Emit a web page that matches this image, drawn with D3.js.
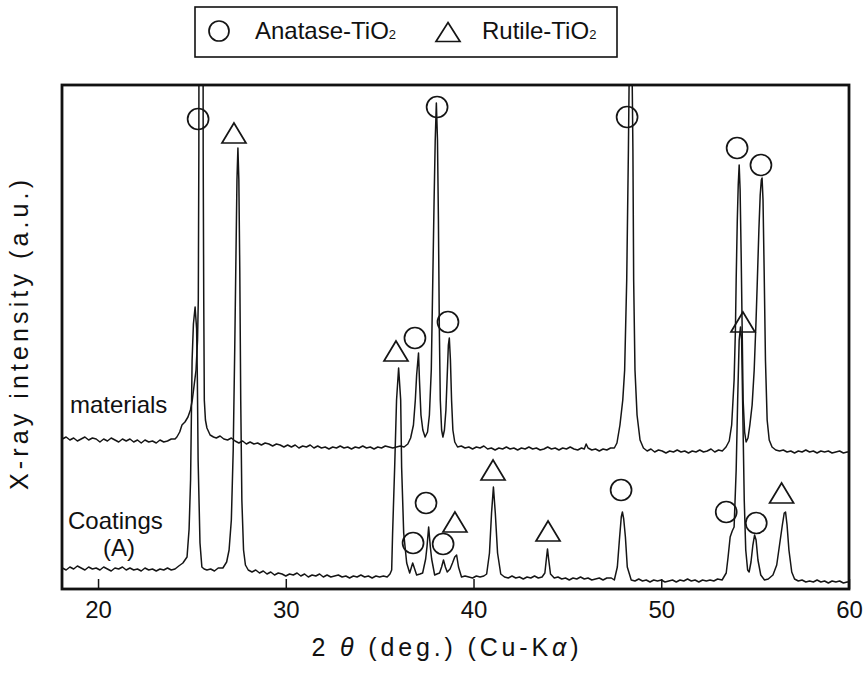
<!DOCTYPE html>
<html>
<head>
<meta charset="utf-8">
<script src="https://cdn.jsdelivr.net/npm/d3@7"></script>
<style>
  body { margin: 0; background: #fff; }
  svg text { font-family: "Liberation Sans", Arial, Helvetica, sans-serif; fill: #111; }
</style>
</head>
<body>
<svg id="chart" width="863" height="675"></svg>
<script>
// XRD patterns: [2θ (deg), intensity (a.u.)]; the materials pattern carries its own vertical offset
const materials = [
  [18.10,1500],[18.30,1520],[18.50,1490],[18.70,1510],[18.90,1480],[19.10,1500],[19.30,1520],[19.50,1490],
  [19.70,1510],[19.90,1500],[20.10,1470],[20.30,1500],[20.50,1480],[20.70,1510],[20.90,1490],[21.10,1470],
  [21.30,1500],[21.50,1480],[21.70,1500],[21.90,1470],[22.10,1490],[22.30,1460],[22.50,1490],[22.70,1470],
  [22.90,1480],[23.10,1460],[23.30,1490],[23.50,1470],[23.70,1480],[23.90,1500],[24.10,1500],[24.20,1520],
  [24.35,1570],[24.47,1640],[24.63,1670],[24.79,1720],[24.92,1790],[25.02,1890],[25.12,2040],[25.22,2190],
  [25.30,2490],[25.34,2890],[25.37,4390],[25.48,30890],[25.60,4390],[25.63,2890],[25.66,1890],[25.72,1690],
  [25.80,1610],[25.97,1540],[26.15,1520],[26.30,1510],[26.50,1530],[26.70,1500],[26.90,1490],[27.10,1510],
  [27.30,1480],[27.50,1460],[27.70,1480],[27.90,1450],[28.10,1470],[28.30,1450],[28.50,1460],[28.70,1440],
  [28.90,1460],[29.10,1450],[29.30,1430],[29.50,1450],[29.70,1440],[29.90,1420],[30.10,1440],[30.30,1420],
  [30.50,1440],[30.70,1410],[30.90,1430],[31.10,1420],[31.30,1440],[31.50,1410],[31.70,1430],[31.90,1410],
  [32.10,1420],[32.30,1400],[32.50,1420],[32.70,1410],[32.90,1430],[33.10,1410],[33.30,1420],[33.50,1400],
  [33.70,1420],[33.90,1410],[34.10,1430],[34.30,1410],[34.50,1420],[34.70,1400],[34.90,1420],[35.10,1410],
  [35.30,1430],[35.50,1420],[35.70,1410],[35.90,1420],[36.10,1430],[36.30,1420],[36.50,1450],[36.65,1510],
  [36.80,1640],[36.90,1890],[36.97,2140],[37.07,2360],[37.12,2090],[37.20,1740],[37.30,1590],[37.42,1520],
  [37.55,1570],[37.65,1740],[37.75,2190],[37.83,3090],[37.90,3890],[37.96,4490],[38.02,4860],[38.08,4490],
  [38.13,3690],[38.18,2590],[38.23,1890],[38.30,1590],[38.37,1520],[38.45,1590],[38.53,1790],[38.60,2140],
  [38.66,2440],[38.71,2510],[38.77,2290],[38.83,1890],[38.90,1590],[39.00,1470],[39.15,1420],[39.35,1430],
  [39.55,1410],[39.75,1420],[39.95,1400],[40.15,1420],[40.35,1410],[40.55,1430],[40.75,1400],[40.95,1410],
  [41.15,1390],[41.35,1410],[41.55,1400],[41.75,1420],[41.95,1400],[42.15,1410],[42.35,1390],[42.55,1410],
  [42.75,1400],[42.95,1420],[43.15,1400],[43.35,1410],[43.55,1390],[43.75,1400],[43.95,1420],[44.15,1400],
  [44.35,1410],[44.55,1390],[44.75,1410],[44.95,1400],[45.15,1420],[45.35,1400],[45.55,1390],[45.75,1410],
  [45.90,1400],[46.00,1450],[46.10,1410],[46.30,1390],[46.50,1400],[46.70,1380],[46.90,1400],[47.10,1390],
  [47.30,1410],[47.50,1410],[47.64,1460],[47.80,1640],[47.95,1890],[48.05,2190],[48.16,3090],[48.25,4390],
  [48.30,5290],[48.37,30890],[48.44,5290],[48.49,4390],[48.53,3090],[48.60,2190],[48.71,1740],[48.87,1490],
  [49.05,1410],[49.25,1380],[49.45,1400],[49.65,1370],[49.85,1390],[50.05,1380],[50.25,1360],[50.45,1380],
  [50.65,1370],[50.85,1390],[51.05,1370],[51.25,1380],[51.45,1360],[51.65,1380],[51.85,1370],[52.05,1390],
  [52.25,1370],[52.45,1380],[52.65,1400],[52.85,1370],[53.05,1390],[53.25,1380],[53.45,1420],[53.62,1480],
  [53.75,1640],[53.88,2090],[53.95,2590],[53.99,3090],[54.05,3690],[54.10,4040],[54.15,4240],[54.20,3990],
  [54.26,3290],[54.31,2590],[54.36,1890],[54.44,1570],[54.52,1470],[54.62,1510],[54.72,1640],[54.84,1840],
  [54.95,2190],[55.05,2690],[55.11,3040],[55.20,3590],[55.27,3940],[55.33,4090],[55.37,4110],[55.42,3890],
  [55.48,3190],[55.55,2290],[55.64,1690],[55.75,1490],[55.90,1420],[56.10,1390],[56.30,1380],[56.50,1390],
  [56.70,1370],[56.90,1380],[57.10,1360],[57.30,1380],[57.50,1370],[57.70,1390],[57.90,1370],[58.10,1380],
  [58.30,1360],[58.50,1380],[58.70,1370],[58.90,1380],[59.10,1360],[59.30,1370],[59.50,1380],[59.70,1360],
  [59.90,1370],[60.00,1370]
];

const coatings = [
  [18.10,210],[18.30,190],[18.50,220],[18.70,200],[18.90,230],[19.10,210],[19.30,190],[19.50,220],
  [19.70,200],[19.90,210],[20.10,190],[20.30,220],[20.50,200],[20.70,180],[20.90,210],[21.10,200],
  [21.30,220],[21.50,190],[21.70,210],[21.90,190],[22.10,200],[22.30,180],[22.50,210],[22.70,190],
  [22.90,200],[23.10,180],[23.30,200],[23.50,190],[23.70,210],[23.90,190],[24.10,200],[24.30,230],
  [24.52,260],[24.74,320],[24.85,600],[24.93,1100],[25.01,2290],[25.08,2650],[25.17,2820],[25.25,2600],
  [25.29,2100],[25.33,1290],[25.43,460],[25.53,220],[25.65,200],[25.80,190],[26.00,200],[26.20,180],
  [26.40,210],[26.65,210],[26.85,270],[26.98,390],[27.10,690],[27.20,1390],[27.28,2390],[27.35,3390],
  [27.40,4090],[27.45,4410],[27.50,4090],[27.55,3190],[27.60,1890],[27.66,890],[27.75,390],[27.85,240],
  [28.00,190],[28.20,170],[28.40,190],[28.60,160],[28.80,180],[29.00,150],[29.20,170],[29.40,140],
  [29.60,160],[29.80,150],[30.00,130],[30.20,150],[30.40,140],[30.60,160],[30.80,130],[31.00,150],
  [31.20,120],[31.40,140],[31.60,130],[31.80,150],[32.00,120],[32.20,140],[32.40,120],[32.60,130],
  [32.80,140],[33.00,120],[33.20,130],[33.40,110],[33.60,130],[33.80,120],[34.00,140],[34.20,120],
  [34.40,130],[34.60,110],[34.80,130],[35.00,120],[35.20,130],[35.40,120],[35.55,150],[35.64,190],
  [35.69,560],[35.80,1220],[35.90,1890],[36.01,2210],[36.12,1890],[36.17,1220],[36.28,560],[36.44,260],
  [36.60,160],[36.76,260],[36.97,140],[37.15,150],[37.29,160],[37.45,300],[37.52,420],[37.61,620],
  [37.70,420],[37.77,300],[37.93,140],[38.05,150],[38.19,160],[38.30,220],[38.40,290],[38.50,220],
  [38.60,170],[38.75,200],[38.88,260],[39.00,320],[39.10,340],[39.20,220],[39.36,120],[39.55,130],
  [39.75,120],[39.95,110],[40.15,130],[40.35,120],[40.55,130],[40.70,150],[40.85,360],[40.96,760],
  [41.06,1020],[41.16,760],[41.28,360],[41.45,150],[41.65,120],[41.85,110],[42.05,130],[42.25,110],
  [42.45,120],[42.65,100],[42.85,120],[43.05,110],[43.25,130],[43.45,110],[43.65,120],[43.80,160],
  [43.88,300],[43.94,400],[44.00,300],[44.10,150],[44.30,110],[44.50,120],[44.70,100],[44.90,110],
  [45.10,90],[45.30,110],[45.50,100],[45.70,120],[45.90,100],[46.10,110],[46.30,90],[46.50,100],
  [46.70,110],[46.90,90],[47.10,110],[47.34,110],[47.50,90],[47.66,220],[47.77,490],[47.87,720],
  [47.93,770],[48.00,700],[48.09,520],[48.19,220],[48.40,90],[48.60,80],[48.80,100],[49.00,80],
  [49.20,90],[49.40,70],[49.60,90],[49.80,80],[50.00,90],[50.20,70],[50.40,80],[50.60,90],
  [50.80,70],[51.00,90],[51.20,80],[51.40,100],[51.60,80],[51.80,90],[52.00,70],[52.20,90],
  [52.40,80],[52.60,90],[52.80,80],[53.00,100],[53.24,90],[53.46,160],[53.56,320],[53.67,520],
  [53.78,580],[53.88,620],[53.99,1190],[54.07,1890],[54.15,2490],[54.22,2620],[54.28,2490],[54.35,1690],
  [54.42,890],[54.50,390],[54.60,190],[54.68,170],[54.78,270],[54.88,440],[54.97,540],[55.05,490],
  [55.15,290],[55.30,140],[55.50,90],[55.70,100],[55.95,140],[56.15,240],[56.30,440],[56.45,640],
  [56.55,760],[56.62,770],[56.70,640],[56.80,390],[56.95,170],[57.10,100],[57.30,80],[57.50,90],
  [57.70,70],[57.90,80],[58.10,70],[58.30,90],[58.50,70],[58.70,80],[58.90,60],[59.10,80],
  [59.30,70],[59.50,80],[59.70,60],[59.90,70],[60.00,70]
];

// Phase identification marks: [2θ, intensity at which the symbol sits]
const anataseMarks = [
  [25.33,4700],[38.06,4820],[48.18,4720],[54.04,4410],[55.31,4240],[36.88,2510],[38.64,2670],
  [36.78,460],[37.47,860],[38.38,450],[47.86,990],[53.46,770],[55.06,660]
];
const rutileMarks = [
  [27.24,4560],[35.87,2380],[39.01,670],[41.04,1190],[43.97,580],[54.35,2670],[56.41,960]
];

const xTicks = [20, 30, 40, 50, 60];
const curveLabels = [
  { text: "materials", x: 70, y: 413, anchor: "start" },
  { text: "Coatings", x: 68, y: 529, anchor: "start" },
  { text: "(A)", x: 119, y: 556, anchor: "middle" }
];
const legendItems = [
  { shape: "circle", name: "Anatase-TiO", sub: "2" },
  { shape: "triangle", name: "Rutile-TiO", sub: "2" }
];

const svg = d3.select("#chart");
const frame = { left: 62, right: 849, top: 85, bottom: 589 };

const x = d3.scaleLinear().domain([18.08, 60]).range([frame.left, frame.right]);
const y = d3.scaleLinear().domain([0, 5040]).range([frame.bottom, frame.top]);

svg.append("defs").append("clipPath").attr("id", "plot-clip")
  .append("rect")
  .attr("x", frame.left).attr("y", frame.top)
  .attr("width", frame.right - frame.left).attr("height", frame.bottom - frame.top);

// patterns
const line = d3.line().x(d => x(d[0])).y(d => y(d[1]));
const curves = svg.append("g").attr("clip-path", "url(#plot-clip)");
[materials, coatings].forEach(series => {
  curves.append("path")
    .datum(series)
    .attr("d", line)
    .attr("fill", "none")
    .attr("stroke", "#151515")
    .attr("stroke-width", 1.5)
    .attr("stroke-linejoin", "round");
});

// symbols
const triPath = (cx, cy, w, h) => {
  const p = d3.path();
  p.moveTo(cx, cy - h / 2);
  p.lineTo(cx + w / 2, cy + h / 2);
  p.lineTo(cx - w / 2, cy + h / 2);
  p.closePath();
  return p.toString();
};

const marks = svg.append("g");
marks.selectAll("circle.anatase").data(anataseMarks).join("circle")
  .attr("class", "anatase")
  .attr("cx", d => x(d[0])).attr("cy", d => y(d[1])).attr("r", 10.5)
  .attr("fill", "none").attr("stroke", "#151515").attr("stroke-width", 1.7);
marks.selectAll("path.rutile").data(rutileMarks).join("path")
  .attr("class", "rutile")
  .attr("d", d => triPath(x(d[0]), y(d[1]), 24, 20))
  .attr("fill", "none").attr("stroke", "#151515").attr("stroke-width", 1.7)
  .attr("stroke-linejoin", "miter");

// bottom axis with inward ticks
const xAxis = d3.axisBottom(x).tickValues(xTicks).tickSizeInner(-10).tickSizeOuter(0).tickPadding(12);
const gx = svg.append("g").attr("transform", `translate(0,${frame.bottom})`).call(xAxis);
gx.select(".domain").remove();
gx.selectAll(".tick line").attr("stroke", "#151515").attr("stroke-width", 1.5);
gx.selectAll(".tick text")
  .style("font-family", '"Liberation Sans", Arial, Helvetica, sans-serif')
  .style("font-size", "24px").attr("fill", "#111");

// frame
svg.append("rect")
  .attr("x", frame.left).attr("y", frame.top)
  .attr("width", frame.right - frame.left).attr("height", frame.bottom - frame.top)
  .attr("fill", "none").attr("stroke", "#111").attr("stroke-width", 2.8);

// axis titles
const xt = svg.append("text")
  .attr("x", 445).attr("y", 656)
  .attr("text-anchor", "middle")
  .attr("textLength", 267).attr("lengthAdjust", "spacing")
  .style("font-size", "25px");
xt.append("tspan").text("2 ");
xt.append("tspan").style("font-style", "italic").text("θ");
xt.append("tspan").text(" (deg.) (Cu-K");
xt.append("tspan").style("font-style", "italic").text("α");
xt.append("tspan").text(")");

svg.append("text")
  .attr("transform", "translate(28,335) rotate(-90)")
  .attr("text-anchor", "middle")
  .attr("textLength", 310).attr("lengthAdjust", "spacing")
  .style("font-size", "25px")
  .text("X-ray intensity (a.u.)");

// pattern labels
svg.selectAll("text.curve-label").data(curveLabels).join("text")
  .attr("class", "curve-label")
  .attr("x", d => d.x).attr("y", d => d.y)
  .attr("text-anchor", d => d.anchor)
  .style("font-size", "24px")
  .text(d => d.text);

// legend
const lg = svg.append("g");
lg.append("rect").attr("x", 195).attr("y", 7).attr("width", 422).attr("height", 50)
  .attr("fill", "#fff").attr("stroke", "#111").attr("stroke-width", 1.6);
const legendX = [{ sym: 219, txt: 255 }, { sym: 448, txt: 482 }];
legendItems.forEach((item, i) => {
  const pos = legendX[i];
  if (item.shape === "circle") {
    lg.append("circle").attr("cx", pos.sym).attr("cy", 31).attr("r", 10)
      .attr("fill", "none").attr("stroke", "#151515").attr("stroke-width", 1.7);
  } else {
    lg.append("path").attr("d", triPath(pos.sym, 32, 24, 19))
      .attr("fill", "none").attr("stroke", "#151515").attr("stroke-width", 1.7);
  }
  const t = lg.append("text").attr("x", pos.txt).attr("y", 39).style("font-size", "24px");
  t.append("tspan").text(item.name);
  t.append("tspan").style("font-size", "13px").text(item.sub);
});
</script>
</body>
</html>
